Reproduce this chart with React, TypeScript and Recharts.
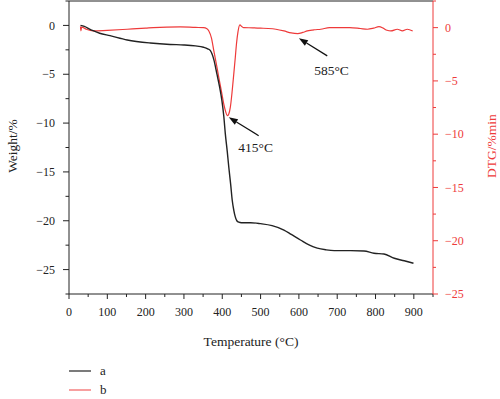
import {
  Legend,
  Line,
  LineChart,
  ReferenceDot,
  ReferenceLine,
  XAxis,
  YAxis
} from 'recharts';

// TG curve (a), weight loss in %
const tempA = [30, 40, 55, 63, 80, 107, 152, 212, 264, 300, 330, 351, 362, 369, 378, 386, 393, 399, 404, 408, 413, 417, 422, 426, 430, 434, 438, 443, 450, 474, 500, 530, 561, 580, 604, 625, 648, 670, 692, 735, 770, 796, 822, 849, 875, 899];
const weightA = [0, -0.1, -0.4, -0.54, -0.8, -1.05, -1.49, -1.8, -1.95, -2.0, -2.1, -2.24, -2.4, -2.58, -3.5, -4.96, -6.3, -7.68, -9.3, -11.1, -12.9, -14.5, -16.3, -17.9, -18.9, -19.6, -20.0, -20.15, -20.2, -20.2, -20.3, -20.5, -20.95, -21.4, -21.97, -22.45, -22.8, -22.97, -23.06, -23.06, -23.1, -23.33, -23.4, -23.84, -24.1, -24.35];

// DTG curve (b), %/min
const tempB = [30, 31, 33, 45, 63, 100, 152, 200, 220, 290, 330, 351, 360, 365, 372, 378, 385, 391, 398, 404, 409, 413, 417, 421, 426, 430, 434, 437, 441, 446, 451, 456, 480, 500, 520, 540, 561, 580, 597, 610, 622, 640, 657, 680, 733, 760, 779, 795, 809, 820, 830, 840, 857, 870, 883, 897];
const dtgB = [0.1, -0.3, 0.05, -0.15, -0.31, -0.25, -0.15, -0.05, 0, 0.07, 0.02, 0, -0.1, -0.31, -1.0, -2.18, -3.5, -4.68, -6.0, -7.17, -7.9, -8.27, -8.1, -7.49, -5.9, -4.36, -2.8, -1.56, -0.4, 0.25, 0.1, 0, -0.02, -0.05, -0.08, -0.15, -0.31, -0.5, -0.56, -0.45, -0.31, -0.2, -0.15, 0, 0, -0.08, -0.15, -0.05, 0.09, -0.05, -0.25, -0.31, -0.15, -0.31, -0.15, -0.31];

const xTicks = [0, 50, 100, 150, 200, 250, 300, 350, 400, 450, 500, 550, 600, 650, 700, 750, 800, 850, 900, 950];
const leftTicks = [2.5, 0, -2.5, -5, -7.5, -10, -12.5, -15, -17.5, -20, -22.5, -25, -27.5];
const rightTicks = [2.5, 0, -2.5, -5, -7.5, -10, -12.5, -15, -17.5, -20, -22.5, -25];

const peakLabels = ['415°C', '585°C'];
const seriesNames = ['a', 'b'];

const dataA = tempA.map((t, i) => ({ t, w: weightA[i] }));
const dataB = tempB.map((t, i) => ({ t, d: dtgB[i] }));

const FONT = '"Liberation Serif", "Times New Roman", serif';
const INK = '#222';
const RED = '#ee3a3a';

const fmt = (v: number) => (v < 0 ? `\u2212${Math.abs(v)}` : `${v}`);

function XTick(props: any) {
  const { x, y, payload } = props;
  const v = payload.value;
  const major = v % 100 === 0 && v <= 900;
  const axisY = y - 13;
  return (
    <g>
      <line x1={x} x2={x} y1={axisY} y2={axisY + (major ? 5 : 3)} stroke={INK} />
      {major && (
        <text x={x} y={y} dy="0.71em" textAnchor="middle" fontSize={12} fontFamily={FONT} fill={INK}>
          {v}
        </text>
      )}
    </g>
  );
}

function LeftTick(props: any) {
  const { x, y, payload } = props;
  const v = payload.value;
  const major = v % 5 === 0;
  const axisX = x + 14;
  return (
    <g>
      <line x1={axisX} x2={axisX - (major ? 6 : 3.5)} y1={y} y2={y} stroke={INK} />
      {major && (
        <text x={axisX - 14} y={y} dy="0.35em" textAnchor="end" fontSize={12} fontFamily={FONT} fill={INK}>
          {fmt(v)}
        </text>
      )}
    </g>
  );
}

function RightTick(props: any) {
  const { x, y, payload } = props;
  const v = payload.value;
  const major = v % 5 === 0;
  const axisX = x - 12;
  return (
    <g>
      <line x1={axisX} x2={axisX + (major ? 5 : 3)} y1={y} y2={y} stroke={RED} />
      {major && (
        <text x={axisX + 12} y={y} dy="0.35em" textAnchor="start" fontSize={12} fontFamily={FONT} fill={RED}>
          {fmt(v)}
        </text>
      )}
    </g>
  );
}

function Arrow(props: any) {
  const { x1, y1, x2, y2 } = props;
  const a = Math.atan2(y2 - y1, x2 - x1);
  const len = 9;
  const half = 3.2;
  const bx = x2 - len * Math.cos(a);
  const by = y2 - len * Math.sin(a);
  const px = -Math.sin(a) * half;
  const py = Math.cos(a) * half;
  return (
    <g>
      <line x1={x1} y1={y1} x2={bx} y2={by} stroke="#111" strokeWidth={1.2} />
      <polygon points={`${x2},${y2} ${bx + px},${by + py} ${bx - px},${by - py}`} fill="#111" />
    </g>
  );
}

function LegendBox() {
  const colors = [INK, '#f26262'];
  return (
    <div style={{ fontFamily: FONT, fontSize: 13, color: INK }}>
      {seriesNames.map((n, i) => (
        <div key={n} style={{ display: 'flex', alignItems: 'center', height: 18.5 }}>
          <svg width={22} height={4} style={{ marginRight: 9 }}>
            <line x1={0} x2={22} y1={2} y2={2} stroke={colors[i]} strokeWidth={1.2} />
          </svg>
          <span>{n}</span>
        </div>
      ))}
    </div>
  );
}

export default function App() {
  return (
    <div style={{ position: 'absolute', left: 0, top: 0, width: 500, height: 399, background: '#fff' }}>
      <LineChart width={500} height={399} margin={{ top: 1, right: 0, bottom: 0, left: 0 }}>
        <XAxis
          type="number"
          dataKey="t"
          domain={[0, 950]}
          ticks={xTicks}
          interval={0}
          allowDuplicatedCategory={false}
          tickSize={5}
          tickMargin={8}
          tickLine={false}
          tick={<XTick />}
          axisLine={{ stroke: INK }}
          height={68}
          label={{
            value: 'Temperature (°C)',
            position: 'insideBottom',
            offset: 16,
            fontSize: 13.5,
            fontFamily: FONT,
            fill: INK
          }}
        />
        <YAxis
          yAxisId="left"
          type="number"
          domain={[-27.5, 2.5]}
          ticks={leftTicks}
          interval={0}
          width={69}
          tickSize={6}
          tickMargin={8}
          tickLine={false}
          tick={<LeftTick />}
          axisLine={{ stroke: INK }}
          label={({ viewBox }: any) => (
            <text
              transform={`translate(${viewBox.x + 12},146) rotate(-90)`}
              textAnchor="middle"
              dominantBaseline="central"
              fontSize={13.5}
              fontFamily={FONT}
              fill={INK}
            >
              Weight/%
            </text>
          )}
        />
        <YAxis
          yAxisId="right"
          orientation="right"
          type="number"
          domain={[-25, 2.5]}
          ticks={rightTicks}
          interval={0}
          width={67}
          tickSize={5}
          tickMargin={7}
          tickLine={false}
          tick={<RightTick />}
          axisLine={{ stroke: RED }}
          label={({ viewBox }: any) => (
            <text
              transform={`translate(${viewBox.x + 58},146) rotate(-90)`}
              textAnchor="middle"
              dominantBaseline="central"
              fontSize={13.5}
              fontFamily={FONT}
              fill={RED}
            >
              DTG/%min
            </text>
          )}
        />
        <ReferenceLine yAxisId="left" y={2.5} stroke={INK} />
        <Line
          yAxisId="right"
          data={dataB}
          dataKey="d"
          name={seriesNames[1]}
          type="monotone"
          stroke={RED}
          strokeWidth={1.2}
          dot={false}
          isAnimationActive={false}
        />
        <Line
          yAxisId="left"
          data={dataA}
          dataKey="w"
          name={seriesNames[0]}
          type="monotone"
          stroke={INK}
          strokeWidth={1.4}
          dot={false}
          isAnimationActive={false}
        />
        <ReferenceLine
          yAxisId="right"
          segment={[{ x: 495, y: -10.14 }, { x: 417, y: -8.42 }]}
          shape={Arrow}
        />
        <ReferenceLine
          yAxisId="right"
          segment={[{ x: 674, y: -2.65 }, { x: 600, y: -1.0 }]}
          shape={Arrow}
        />
        <ReferenceDot
          yAxisId="right"
          x={487}
          y={-11.24}
          r={0}
          fill="none"
          stroke="none"
          label={{ value: peakLabels[0], position: 'center', fontSize: 13.5, fontFamily: FONT, fill: INK }}
        />
        <ReferenceDot
          yAxisId="right"
          x={685}
          y={-3.96}
          r={0}
          fill="none"
          stroke="none"
          label={{ value: peakLabels[1], position: 'center', fontSize: 13.5, fontFamily: FONT, fill: INK }}
        />
        <Legend
          layout="horizontal"
          verticalAlign="bottom"
          align="left"
          content={<LegendBox />}
          wrapperStyle={{ left: 69, height: 37 }}
        />
      </LineChart>
    </div>
  );
}
